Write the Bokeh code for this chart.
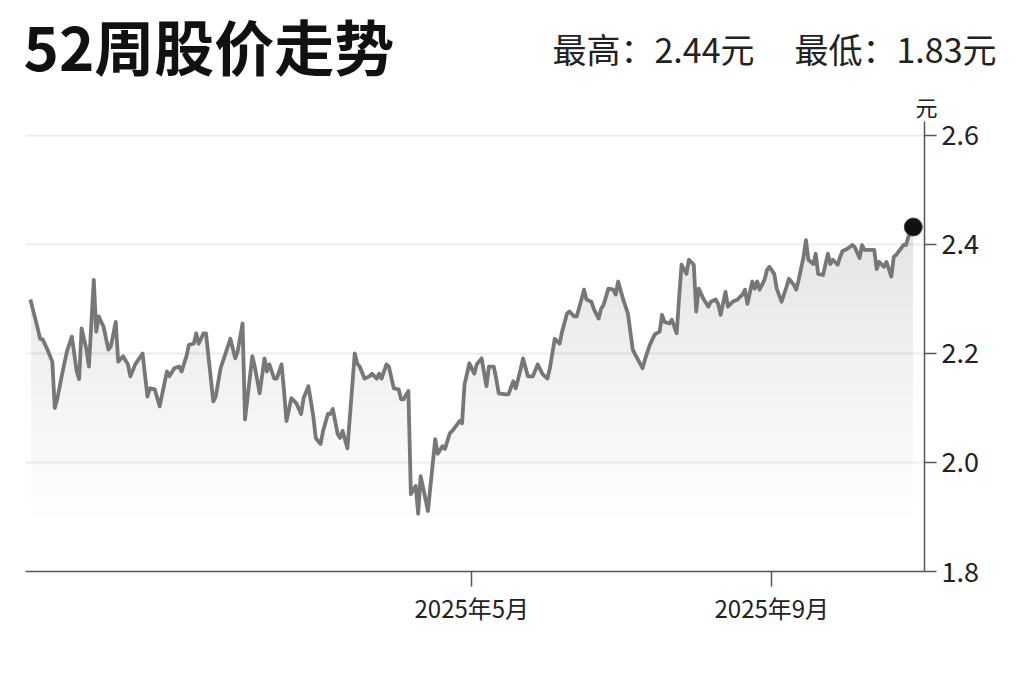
import numpy as np
import pandas as pd
from bokeh.plotting import figure
from bokeh.layouts import column
from bokeh.models import FixedTicker, CustomJSTickFormatter, PrintfTickFormatter, Range1d, ColumnDataSource, Title
from bokeh.core.properties import value
from bokeh.embed import file_html
from bokeh.resources import INLINE

# ---------------- data ----------------
start_date = "2024-10-30"
day_offsets = [
    2, 5, 6, 7, 9, 11, 12, 13, 15, 17, 19, 21, 22, 23, 25, 26, 28, 29, 30, 32, 34, 35, 37, 38, 40, 42, 43, 45, 48, 50, 51, 53, 55, 58, 59, 61,
    63, 64, 66, 67, 69, 70, 71, 73, 74, 77, 78, 80, 82, 84, 86, 87, 89, 90, 93, 94, 96, 98, 99, 100, 102, 103, 105, 106, 107, 109, 111, 113, 114, 116, 118, 119, 121,
    122, 124, 125, 126, 128, 129, 130, 132, 135, 136, 137, 139, 141, 142, 144, 145, 146, 148, 149, 151, 153, 154, 155, 157, 158, 160, 161, 162, 164, 165, 168, 169, 171, 172, 174, 175, 178, 179, 180,
    182, 184, 185, 187, 189, 190, 192, 193, 194, 197, 198, 200, 201, 203, 204, 206, 208, 210, 212, 214, 215, 217, 219, 220, 222, 223, 225, 226, 228, 229, 230, 232, 233, 235, 236, 237, 239,
    241, 242, 243, 245, 247, 249, 250, 253, 254, 256, 258, 260, 261, 262, 264, 265, 267, 268, 269, 271, 272, 274, 275, 276, 278, 280, 281, 283, 284, 285, 287, 288, 290, 292, 293, 294, 295, 296, 298, 299,
    300, 301, 303, 304, 305, 307, 308, 310, 312, 313, 315, 316, 317, 319, 320, 321, 323, 324, 325, 327, 329, 330, 331, 333, 334, 335, 337, 339, 340, 342, 343, 344, 346, 348, 349, 350, 352, 353, 355, 356, 357, 360, 361, 362, 364,
]
prices = [
    2.299, 2.246, 2.227, 2.226, 2.207, 2.185, 2.100, 2.116, 2.162, 2.204, 2.231, 2.167, 2.153, 2.246, 2.207, 2.176, 2.335, 2.240, 2.268, 2.249, 2.207, 2.213, 2.258, 2.185, 2.195, 2.180, 2.158, 2.180, 2.200, 2.121, 2.136, 2.134, 2.103, 2.167, 2.158, 2.173,
    2.176, 2.167, 2.195, 2.216, 2.218, 2.237, 2.218, 2.237, 2.237, 2.112, 2.121, 2.173, 2.200, 2.227, 2.191, 2.204, 2.255, 2.079, 2.195, 2.176, 2.127, 2.191, 2.167, 2.180, 2.154, 2.154, 2.180, 2.131, 2.076, 2.118, 2.109, 2.089, 2.118, 2.140, 2.085, 2.045, 2.034,
    2.058, 2.089, 2.089, 2.098, 2.052, 2.045, 2.058, 2.026, 2.200, 2.182, 2.176, 2.154, 2.158, 2.163, 2.154, 2.163, 2.154, 2.180, 2.176, 2.136, 2.134, 2.116, 2.116, 2.131, 1.942, 1.957, 1.906, 1.975, 1.933, 1.911, 2.043, 2.016, 2.030, 2.025, 2.054, 2.058, 2.076, 2.072, 2.143,
    2.182, 2.163, 2.180, 2.191, 2.140, 2.176, 2.176, 2.154, 2.127, 2.125, 2.125, 2.149, 2.136, 2.171, 2.191, 2.158, 2.158, 2.180, 2.162, 2.154, 2.173, 2.227, 2.218, 2.240, 2.273, 2.277, 2.268, 2.268, 2.300, 2.317, 2.299, 2.295, 2.282, 2.264, 2.282, 2.289, 2.319,
    2.317, 2.308, 2.332, 2.300, 2.273, 2.207, 2.198, 2.173, 2.189, 2.216, 2.235, 2.240, 2.271, 2.258, 2.255, 2.262, 2.237, 2.304, 2.363, 2.346, 2.372, 2.363, 2.277, 2.319, 2.300, 2.286, 2.295, 2.299, 2.291, 2.271, 2.313, 2.286, 2.295, 2.299, 2.304, 2.308, 2.317, 2.291, 2.332, 2.319,
    2.332, 2.317, 2.335, 2.353, 2.359, 2.346, 2.319, 2.295, 2.322, 2.337, 2.326, 2.317, 2.335, 2.377, 2.408, 2.372, 2.364, 2.383, 2.346, 2.344, 2.383, 2.364, 2.372, 2.363, 2.377, 2.388, 2.392, 2.399, 2.395, 2.375, 2.399, 2.390, 2.390, 2.390, 2.355, 2.368, 2.359, 2.368, 2.341, 2.377, 2.381, 2.399, 2.399, 2.414, 2.432,
]
assert len(day_offsets) == len(prices)

title_text = "52周股价走势"
high_text = "最高：2.44元"
low_text = "最低：1.83元"
unit_text = "元"
y_ticks = [1.8, 2.0, 2.2, 2.4, 2.6]
grid_ticks = [2.0, 2.2, 2.4, 2.6]
x_tick_dates = ["2025-05-01", "2025-09-01"]

# ---------------- layout constants ----------------
FONT = "Noto Sans CJK SC"
W = 1015
HEAD_H = 87
TOP_B = 32
FRAME_H = 452
BOT_B = 89
MAIN_H = TOP_B + FRAME_H + BOT_B

# ---------------- header (title + high/low) ----------------
head = figure(width=W, height=HEAD_H, x_range=Range1d(0, W), y_range=Range1d(0, HEAD_H),
              output_backend="svg", toolbar_location=None, frame_align=False,
              min_border_left=0, min_border_right=0, min_border_top=0, min_border_bottom=0)
head.axis.visible = False
head.grid.visible = False
head.outline_line_color = None
head.background_fill_color = "white"
head.border_fill_color = "white"
head.text(x=[23], y=[HEAD_H / 2], text=[title_text], text_font=value(FONT), text_font_size="60px",
          text_font_style="bold", text_color="#111111", text_align="left", text_baseline="middle")
head.text(x=[754, 996], y=[HEAD_H - 48, HEAD_H - 48], text=[high_text, low_text], text_font=value(FONT),
          text_font_size="34px", text_color="#222222", text_align="right", text_baseline="middle")

# ---------------- main chart ----------------
t0 = pd.Timestamp(start_date)
dates = t0 + pd.to_timedelta(day_offsets, unit="D")
price_arr = np.array(prices)
src = ColumnDataSource(dict(x=dates, y=price_arr))

x_start = t0
x_end = t0 + pd.Timedelta(days=368.6)
y_lo, y_hi = 1.8, 2.6256

p = figure(width=W, height=MAIN_H, x_axis_type="datetime", y_axis_location="right",
           x_range=Range1d(x_start, x_end), y_range=Range1d(y_lo, y_hi),
           output_backend="svg", toolbar_location=None, frame_align=False,
           min_border_left=25, min_border_right=91, min_border_top=TOP_B, min_border_bottom=BOT_B)
p.outline_line_color = None
p.background_fill_color = "white"
p.border_fill_color = "white"

# unit label above the value axis
p.add_layout(Title(text=unit_text, align="right", offset=-13, standoff=0, text_font=FONT,
                   text_font_size="22px", text_font_style="normal", text_color="#222222"), "above")

# gradient-like fill under the line
levels = np.arange(1.90, 2.46, 0.02)
for L in levels:
    p.varea(x=dates, y1=np.minimum(price_arr, L), y2=price_arr, fill_color="black", fill_alpha=0.004)

p.line("x", "y", source=src, line_color="#777777", line_width=3.8, line_join="round")
p.scatter(x=[dates[-1]], y=[price_arr[-1]], size=18, fill_color="#111111", line_color="#444444", line_width=1)

# grid
p.xgrid.visible = False
p.ygrid.ticker = FixedTicker(ticks=grid_ticks)
p.ygrid.grid_line_color = "#ededed"
p.ygrid.grid_line_width = 2

# y axis (right)
ya = p.yaxis[0]
ya.ticker = FixedTicker(ticks=y_ticks, minor_ticks=[])
ya.formatter = PrintfTickFormatter(format="%.1f")
ya.axis_line_color = "#555555"
ya.axis_line_width = 1.5
ya.major_tick_line_color = "#555555"
ya.major_tick_line_width = 1.5
ya.major_tick_in = 0
ya.major_tick_out = 12
ya.minor_tick_line_color = None
ya.major_label_text_font = FONT
ya.major_label_text_font_size = "27px"
ya.major_label_text_color = "#222222"
ya.major_label_standoff = 5

# x axis
xa = p.xaxis[0]
xa.ticker = FixedTicker(ticks=[pd.Timestamp(d).value // 10**6 for d in x_tick_dates], minor_ticks=[])
xa.formatter = CustomJSTickFormatter(code="const d = new Date(tick); return d.getUTCFullYear() + '年' + (d.getUTCMonth() + 1) + '月';")
xa.axis_line_color = "#555555"
xa.axis_line_width = 1.5
xa.major_tick_line_color = "#555555"
xa.major_tick_line_width = 1.5
xa.major_tick_in = 0
xa.major_tick_out = 15
xa.minor_tick_line_color = None
xa.major_label_text_font = FONT
xa.major_label_text_font_size = "24px"
xa.major_label_text_color = "#222222"
xa.major_label_standoff = 3

layout = column(head, p, spacing=0)
open("out.html", "w").write(file_html(layout, INLINE))
